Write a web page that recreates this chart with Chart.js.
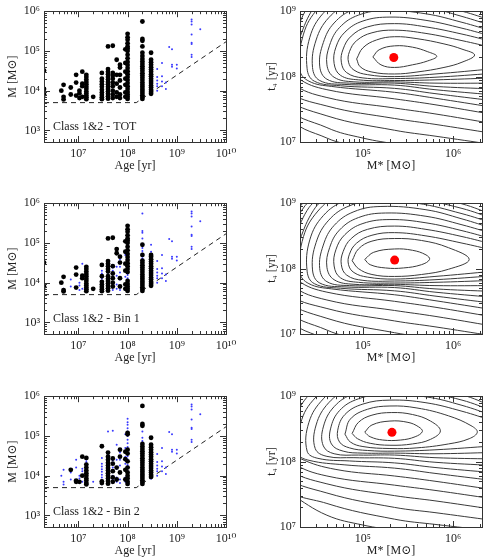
<!DOCTYPE html>
<html>
<head>
<meta charset="utf-8">
<script src="https://cdn.jsdelivr.net/npm/chart.js@4.4.0/dist/chart.umd.min.js"></script>
<style>
  body { margin: 0; background: #fff; width: 490px; height: 560px; position: relative; overflow: hidden; }
  canvas { position: absolute; }
</style>
</head>
<body>
<canvas id="izq1" width="245" height="180" style="left:0;top:0"></canvas>
<canvas id="der1" width="245" height="180" style="left:245px;top:0"></canvas>
<canvas id="izq2" width="245" height="180" style="left:0;top:192px"></canvas>
<canvas id="der2" width="245" height="180" style="left:245px;top:192px"></canvas>
<canvas id="izq3" width="245" height="180" style="left:0;top:385px"></canvas>
<canvas id="der3" width="245" height="180" style="left:245px;top:385px"></canvas>
<script>
// ---- datos: columnas de cúmulos [edad (yr), [masas (Msun)]] ----
const columnasTot = [
  [2e6, [3.2e4, 1.1e4, 8e3]],
  [4.5e6, [1e4]],
  [5e6, [1.4e4, 7e3, 6e3]],
  [7e6, [1.2e4, 8e3]],
  [9e6, [2.5e4, 1.6e4, 7.5e3]],
  [1.05e7, [1e4, 8.5e3, 6.5e3]],
  [1.2e7, [3e4, 1.5e4, 1.3e4, 7e3]],
  [1.45e7, [2.5e4, 2.2e4, 1.9e4, 1.65e4, 1.45e4, 1.25e4, 1.1e4, 9.5e3, 8.5e3, 7.5e3, 6.8e3, 6.1e3]],
  [2e7, [7e3]],
  [3e7, [2.8e4, 2e4, 1.7e4, 1.45e4, 1.25e4, 1.05e4, 9e3, 7.8e3, 6.8e3, 6.1e3]],
  [4e7, [1.3e5, 3.5e4, 3e4, 2.6e4, 2.2e4, 1.9e4, 1.65e4, 1.45e4, 1.25e4, 1.1e4, 9.5e3, 8.3e3, 7.2e3, 6.3e3]],
  [5e7, [1.35e5, 2.8e4, 2.4e4, 2e4, 1.6e4, 1.3e4, 1e4, 8e3, 6.5e3]],
  [6e7, [6e4, 2.5e4, 1.5e4, 9e3, 7e3]],
  [7e7, [4.5e4, 3.8e4, 2.5e4, 1.8e4, 1.2e4, 8e3, 6.5e3]],
  [9e7, [1.1e5, 5e4, 3e4, 2e4, 1.4e4, 9e3, 7e3]],
  [1e8, [2.7e5, 2.2e5, 1.9e5, 1.55e5, 1.3e5, 1.15e5, 1e5, 8e4, 6.5e4, 5.3e4, 4.4e4, 3.7e4, 3.1e4, 2.6e4, 2.2e4, 1.85e4, 1.55e4, 1.3e4, 1.1e4, 9.3e3, 8e3, 7e3, 6.2e3]],
  [2e8, [5.5e5, 2e5, 1.8e5, 1.3e5, 9e4, 7.5e4, 6.3e4, 5.4e4, 4.7e4, 4.1e4, 3.6e4, 3.15e4, 2.75e4, 2.4e4, 2.1e4, 1.85e4, 1.6e4, 1.4e4, 1.25e4, 1.1e4, 9.8e3, 8.7e3, 7.7e3, 6.9e3, 6.2e3]],
  [3e8, [9e4, 6e4, 5.2e4, 4.5e4, 3.9e4, 3.4e4, 3e4, 2.6e4, 2.3e4, 2e4, 1.75e4, 1.55e4, 1.35e4, 1.2e4, 1.05e4, 9.3e3, 8.3e3]]
];
const columnasViejas = [
  [4e8, [3.5e4, 2.2e4, 1.8e4, 1.5e4, 1.3e4, 1e4]],
  [5e8, [5e4, 2.3e4, 1.7e4, 1.3e4]],
  [6e8, [1.6e4, 1.1e4]],
  [7e8, [1.25e5]],
  [8e8, [1.1e5, 4.5e4, 4e4]],
  [1e9, [4.5e4, 3.6e4]],
  [2e9, [6.2e5, 5.5e5, 4.6e5, 2.6e5, 1.6e5, 1.5e5, 8e4, 7e4]],
  [3e9, [3.5e5]]
];
const columnasBin1 = [
  [2e6, [3.2e4, 8e3]],
  [4.5e6, [1e4]],
  [5e6, [1.4e4, 6.5e3, 6e3]],
  [9e6, [2.4e4, 1.6e4, 7.5e3]],
  [1.2e7, [1.5e4, 1.3e4]],
  [1.45e7, [2.5e4, 2.2e4, 1.9e4, 1.65e4, 1.45e4, 1.25e4, 1.1e4, 9.5e3, 8.5e3, 7.5e3, 6.8e3, 6.1e3]],
  [2e7, [7e3]],
  [3e7, [2.8e4, 1.45e4, 1.05e4, 9e3, 7.8e3, 6.8e3, 6.1e3]],
  [4e7, [1.3e5, 3.5e4, 3e4, 2.6e4, 2.2e4, 1.9e4, 1.45e4, 1.25e4, 1.1e4, 9.5e3, 8.3e3, 7.2e3, 6.3e3]],
  [5e7, [1.35e5, 2.6e4, 1.7e4, 1.3e4, 1e4, 8e3]],
  [6e7, [7e4, 5.5e4]],
  [7e7, [4.5e4, 3.2e4, 1.3e4, 8e3]],
  [9e7, [1.1e5, 6e4, 3e4, 2e4, 9e3, 7e3]],
  [1e8, [2.7e5, 2.2e5, 1.9e5, 1.55e5, 1.3e5, 1.15e5, 1e5, 8e4, 6.5e4, 5.3e4, 4.4e4, 3.7e4, 3.1e4, 2.6e4, 2.2e4, 1.85e4, 1.1e4, 9.3e3, 8e3, 7e3, 6.2e3]],
  [2e8, [9e4, 5e4, 3.6e4, 3.15e4, 2.75e4, 2.4e4, 2.1e4, 1.85e4, 1.6e4, 1.4e4, 1.25e4, 1.1e4, 9.8e3, 8.7e3, 7.7e3, 6.9e3, 6.2e3]],
  [3e8, [5e4, 4.5e4, 3.9e4, 3.4e4, 3e4, 2.6e4, 2.3e4, 2e4, 1.75e4, 1.55e4, 1.35e4, 1.2e4, 1.05e4, 9.3e3, 8.3e3]]
];
const columnasBin2 = [
  [7e6, [1.4e4]],
  [9e6, [7.5e3, 7e3]],
  [1.05e7, [7e3]],
  [1.2e7, [3e4, 1e4]],
  [1.45e7, [2.8e4, 1.9e4, 1.6e4, 1.35e4, 1.15e4, 1e4, 8.5e3, 7.5e3, 6.5e3, 6e3]],
  [3e7, [5.5e4, 7.2e3, 6.5e3]],
  [4e7, [3.8e4, 3e4, 2.5e4, 2.1e4, 1.8e4, 1.55e4, 1.35e4, 1.15e4, 1e4, 8.5e3, 7.3e3, 6.3e3]],
  [5e7, [2.7e4, 2e4, 1.3e4, 9e3, 7e3]],
  [6e7, [1.6e4, 8e3]],
  [7e7, [4.5e4, 3e4, 1.2e4]],
  [9e7, [4e4, 2.6e4, 1.4e4, 8e3]],
  [1e8, [1.2e5, 1.1e5, 4.5e4, 3.6e4, 2.3e4, 1.6e4, 1.2e4, 1e4, 8.5e3, 7e3, 6.2e3]],
  [2e8, [5.7e5, 2e5, 1.8e5, 6.3e4, 5.4e4, 4.7e4, 4.1e4, 3.6e4, 3.15e4, 2.75e4, 2.4e4, 2.1e4, 1.85e4, 1.6e4, 1.4e4, 1.25e4, 1.1e4, 9.8e3, 8.7e3, 7.7e3, 6.9e3, 6.2e3]],
  [3e8, [9e4, 6e4, 5.2e4, 4.5e4, 3.9e4, 3.4e4, 3e4, 2.6e4, 2.3e4, 2e4, 1.75e4, 1.55e4, 1.35e4, 1.2e4, 1.05e4, 9.3e3]]
];

// límite de completitud (línea discontinua)
const limiteEdad = [2e6, 1.5e8, 1e10];
const limiteMasa = [5e3, 5e3, 1.7e5];

// mejor ajuste [M*, t4]
const mejorSup = [2.2e5, 1.96e8];
const mejorMed = [2.25e5, 1.35e8];
const mejorInf = [2.1e5, 2.8e8];

// contornos: pares [log10 M*, log10 t4]
const contornosSup = [
  [[5.11,8.30],[5.18,8.41],[5.35,8.47],[5.55,8.45],[5.72,8.38],[5.82,8.31],[5.72,8.24],[5.55,8.18],[5.35,8.14],[5.2,8.18],[5.11,8.30]],
  [[4.93,8.27],[5.0,8.44],[5.15,8.56],[5.35,8.61],[5.6,8.58],[5.9,8.5],[6.1,8.42],[6.24,8.33],[6.1,8.22],[5.9,8.14],[5.6,8.07],[5.35,8.04],[5.1,8.07],[4.97,8.15],[4.93,8.27]],
  [[6.45,8.44],[6.1,8.55],[5.7,8.66],[5.35,8.71],[5.1,8.67],[4.93,8.55],[4.85,8.38],[4.84,8.22],[4.9,8.1],[5.05,8.03],[5.35,8.0],[5.8,8.04],[6.45,8.12]],
  [[6.45,8.53],[6.1,8.65],[5.7,8.76],[5.35,8.81],[5.05,8.76],[4.87,8.62],[4.78,8.42],[4.76,8.22],[4.82,8.06],[5.0,7.98],[5.35,7.97],[5.8,7.99],[6.45,8.05]],
  [[6.45,8.61],[6.1,8.74],[5.7,8.86],[5.3,8.91],[5.0,8.85],[4.8,8.68],[4.7,8.45],[4.68,8.2],[4.75,8.02],[4.95,7.95],[5.35,7.94],[5.8,7.95],[6.45,7.98]],
  [[6.45,8.69],[6.1,8.83],[5.7,8.96],[5.25,9.01],[4.95,8.94],[4.74,8.75],[4.63,8.48],[4.6,8.18],[4.68,7.99],[4.9,7.92],[5.35,7.92],[5.8,7.9],[6.45,7.9]],
  [[6.45,8.77],[6.1,8.92],[5.7,9.06],[5.2,9.11],[4.9,9.03],[4.68,8.82],[4.56,8.52],[4.52,8.16],[4.6,7.96],[4.85,7.9],[5.35,7.9],[5.8,7.85],[6.45,7.81]],
  [[6.45,8.85],[6.1,9.0],[5.6,9.16],[5.15,9.2],[4.85,9.12],[4.62,8.9],[4.48,8.56],[4.44,8.14],[4.52,7.94],[4.8,7.88],[5.35,7.87],[5.8,7.8],[6.45,7.72]],
  [[6.45,8.92],[6.1,9.08],[5.5,9.26],[5.1,9.3],[4.8,9.2],[4.56,8.97],[4.41,8.6],[4.38,8.12],[4.46,7.93],[4.75,7.86],[5.35,7.82],[5.8,7.74],[6.45,7.63]],
  [[6.45,8.98],[6.1,9.15],[5.5,9.34],[5.0,9.38],[4.72,9.27],[4.5,9.04],[4.34,8.65],[4.3,8.1],[4.4,7.93],[4.65,7.85],[5.35,7.76],[5.8,7.67],[6.45,7.53]],
  [[4.62,9.3],[4.45,9.05],[4.3,8.6],[4.22,8.2],[4.28,7.98],[4.6,7.8],[5.35,7.66],[5.8,7.57],[6.45,7.42]],
  [[4.55,9.3],[4.38,9.05],[4.24,8.6],[4.15,8.2],[4.22,7.9],[4.6,7.68],[5.35,7.52],[5.8,7.43],[6.45,7.28]],
  [[4.48,9.3],[4.32,9.05],[4.18,8.65],[4.08,8.2],[4.15,7.8],[4.6,7.55],[5.35,7.36],[5.8,7.27],[6.45,7.13]],
  [[4.42,9.3],[4.27,9.05],[4.12,8.7],[4.0,8.2],[4.1,7.72],[4.6,7.4],[5.35,7.18],[5.8,7.09],[6.45,6.96]],
  [[4.37,9.3],[4.22,9.05],[4.06,8.75],[4.15,7.58],[4.6,7.22],[5.0,7.06],[5.4,6.96]],
  [[4.33,9.3],[4.18,9.05],[4.2,7.42],[4.6,7.06],[5.0,6.92]]
];
const contornosMed = [
  [[5.02,8.14],[5.12,8.25],[5.35,8.30],[5.55,8.28],[5.7,8.21],[5.74,8.14],[5.65,8.06],[5.45,8.01],[5.25,8.01],[5.08,8.06],[5.02,8.14]],
  [[4.88,8.12],[4.95,8.3],[5.1,8.42],[5.35,8.46],[5.65,8.43],[5.95,8.32],[6.18,8.14],[5.95,7.99],[5.65,7.91],[5.35,7.88],[5.1,7.91],[4.95,8.0],[4.88,8.12]],
  [[6.45,8.28],[6.1,8.39],[5.7,8.5],[5.35,8.55],[5.1,8.51],[4.93,8.39],[4.85,8.22],[4.84,8.06],[4.9,7.94],[5.05,7.87],[5.35,7.84],[5.8,7.88],[6.45,7.96]],
  [[6.45,8.37],[6.1,8.49],[5.7,8.6],[5.35,8.65],[5.05,8.6],[4.87,8.46],[4.78,8.26],[4.76,8.06],[4.82,7.9],[5.0,7.82],[5.35,7.81],[5.8,7.83],[6.45,7.89]],
  [[6.45,8.45],[6.1,8.58],[5.7,8.7],[5.3,8.75],[5.0,8.69],[4.8,8.52],[4.7,8.29],[4.68,8.04],[4.75,7.86],[4.95,7.79],[5.35,7.78],[5.8,7.79],[6.45,7.82]],
  [[6.45,8.53],[6.1,8.67],[5.7,8.8],[5.25,8.85],[4.95,8.78],[4.74,8.59],[4.63,8.32],[4.6,8.02],[4.68,7.83],[4.9,7.76],[5.35,7.76],[5.8,7.74],[6.45,7.74]],
  [[6.45,8.61],[6.1,8.76],[5.7,8.9],[5.2,8.95],[4.9,8.87],[4.68,8.66],[4.56,8.36],[4.52,8.0],[4.6,7.8],[4.85,7.74],[5.35,7.74],[5.8,7.69],[6.45,7.65]],
  [[6.45,8.69],[6.1,8.84],[5.6,9.0],[5.15,9.04],[4.85,8.96],[4.62,8.74],[4.48,8.4],[4.44,7.98],[4.52,7.78],[4.8,7.72],[5.35,7.71],[5.8,7.64],[6.45,7.56]],
  [[6.45,8.76],[6.1,8.92],[5.5,9.1],[5.1,9.14],[4.8,9.04],[4.56,8.81],[4.41,8.44],[4.38,7.96],[4.46,7.77],[4.75,7.7],[5.35,7.66],[5.8,7.58],[6.45,7.47]],
  [[6.45,8.82],[6.1,8.99],[5.5,9.18],[5.0,9.22],[4.72,9.11],[4.5,8.88],[4.34,8.49],[4.3,7.94],[4.4,7.77],[4.65,7.69],[5.35,7.6],[5.8,7.51],[6.45,7.37]],
  [[4.62,9.14],[4.45,8.89],[4.3,8.44],[4.22,8.04],[4.28,7.82],[4.6,7.64],[5.35,7.5],[5.8,7.41],[6.45,7.26]],
  [[4.55,9.14],[4.38,8.89],[4.24,8.44],[4.15,8.04],[4.22,7.74],[4.6,7.52],[5.35,7.36],[5.8,7.27],[6.45,7.12]],
  [[4.48,9.14],[4.32,8.89],[4.18,8.49],[4.08,8.04],[4.15,7.64],[4.6,7.39],[5.35,7.2],[5.8,7.11],[6.45,6.97]],
  [[4.42,9.14],[4.27,8.89],[4.12,8.54],[4.0,8.04],[4.1,7.56],[4.6,7.24],[5.35,7.02],[5.8,6.93]],
  [[4.37,9.14],[4.22,8.89],[4.06,8.59],[4.15,7.42],[4.6,7.06],[5.0,6.9]],
  [[4.33,9.14],[4.18,8.89],[4.2,7.26],[4.6,6.9]]
];
const contornosInf = [
  [[5.02,8.45],[5.1,8.56],[5.3,8.62],[5.5,8.6],[5.62,8.53],[5.66,8.46],[5.58,8.38],[5.42,8.33],[5.22,8.33],[5.08,8.38],[5.02,8.45]],
  [[4.88,8.43],[4.95,8.6],[5.1,8.71],[5.32,8.75],[5.55,8.72],[5.75,8.62],[5.86,8.47],[5.75,8.34],[5.55,8.27],[5.3,8.25],[5.08,8.28],[4.94,8.35],[4.88,8.43]],
  [[4.8,8.42],[4.86,8.65],[5.05,8.8],[5.3,8.85],[5.6,8.82],[5.95,8.7],[6.2,8.55],[6.27,8.45],[6.18,8.35],[5.95,8.27],[5.6,8.21],[5.3,8.2],[5.0,8.23],[4.86,8.3],[4.8,8.42]],
  [[6.45,8.62],[6.1,8.77],[5.7,8.9],[5.3,8.94],[5.0,8.88],[4.8,8.72],[4.72,8.48],[4.74,8.3],[4.85,8.21],[5.05,8.17],[5.35,8.16],[5.8,8.18],[6.45,8.24]],
  [[6.45,8.7],[6.1,8.86],[5.7,8.99],[5.25,9.03],[4.95,8.96],[4.74,8.78],[4.64,8.5],[4.65,8.27],[4.78,8.16],[5.0,8.13],[5.35,8.13],[5.8,8.12],[6.45,8.14]],
  [[6.45,8.77],[6.1,8.94],[5.6,9.08],[5.2,9.12],[4.9,9.04],[4.68,8.84],[4.56,8.53],[4.56,8.24],[4.68,8.12],[4.95,8.1],[5.35,8.1],[5.8,8.06],[6.45,8.04]],
  [[6.45,8.84],[6.1,9.02],[5.5,9.18],[5.1,9.2],[4.85,9.12],[4.62,8.9],[4.48,8.56],[4.47,8.2],[4.6,8.08],[4.9,8.06],[5.35,8.05],[5.8,7.99],[6.45,7.94]],
  [[6.45,8.91],[6.1,9.1],[5.4,9.28],[4.8,9.2],[4.56,8.96],[4.4,8.6],[4.38,8.16],[4.5,8.05],[4.85,8.01],[5.35,7.98],[5.8,7.91],[6.45,7.83]],
  [[6.45,8.97],[6.1,9.17],[4.75,9.28],[4.5,9.02],[4.32,8.64],[4.29,8.12],[4.4,8.02],[4.8,7.95],[5.35,7.9],[5.8,7.82],[6.45,7.71]],
  [[4.7,9.35],[4.44,9.08],[4.25,8.68],[4.2,8.2],[4.3,8.05],[4.7,7.88],[5.35,7.78],[5.8,7.7],[6.45,7.57]],
  [[4.62,9.4],[4.38,9.12],[4.18,8.72],[4.12,8.2],[4.22,7.98],[4.6,7.78],[5.35,7.64],[5.8,7.56],[6.45,7.43]],
  [[4.55,9.45],[4.32,9.18],[4.1,8.76],[4.05,8.2],[4.15,7.9],[4.6,7.66],[5.35,7.48],[5.8,7.4],[6.45,7.27]],
  [[4.48,9.5],[4.26,9.24],[4.03,8.8],[4.0,8.2],[4.1,7.8],[4.6,7.52],[5.35,7.3],[5.8,7.22],[6.45,7.1]],
  [[4.42,9.55],[4.2,9.3],[4.0,8.7],[4.1,7.66],[4.6,7.36],[5.35,7.12],[5.8,7.04],[6.45,6.94]],
  [[4.2,7.5],[4.6,7.18],[5.0,7.03],[5.4,6.94]]
];

// ---- estilo ----
const fuente = "'Liberation Serif', 'DejaVu Serif', serif";
const etiquetas = {3: '10³', 4: '10⁴', 5: '10⁵', 6: '10⁶', 7: '10⁷', 8: '10⁸', 9: '10⁹', 10: '10¹⁰'};

// marco con marcas hacia dentro en los cuatro lados (estilo IDL)
const marcoIDL = {
  id: 'marcoIDL',
  afterDatasetsDraw(chart, args, opts) {
    const {ctx, chartArea: a, scales} = chart;
    ctx.save();
    ctx.strokeStyle = '#333';
    ctx.lineWidth = 1;
    ctx.strokeRect(Math.round(a.left) + 0.5, Math.round(a.top) + 0.5, Math.round(a.right - a.left), Math.round(a.bottom - a.top));
    ctx.beginPath();
    ['x', 'y'].forEach(id => {
      const s = scales[id];
      const e0 = Math.floor(Math.log10(s.min)), e1 = Math.ceil(Math.log10(s.max));
      for (let e = e0; e <= e1; e++) {
        for (let k = 1; k < 10; k++) {
          const v = k * Math.pow(10, e);
          if (v < s.min * 1.001 || v > s.max * 0.999) continue;
          const p = Math.round(s.getPixelForValue(v)) + 0.5;
          const l = k === 1 ? 6 : 3;
          if (id === 'x') {
            ctx.moveTo(p, a.bottom); ctx.lineTo(p, a.bottom - l);
            ctx.moveTo(p, a.top); ctx.lineTo(p, a.top + l);
          } else {
            ctx.moveTo(a.left, p); ctx.lineTo(a.left + l, p);
            ctx.moveTo(a.right, p); ctx.lineTo(a.right - l, p);
          }
        }
      }
    });
    ctx.stroke();
    if (opts && opts.texto) {
      ctx.fillStyle = '#222';
      ctx.font = '12px ' + fuente;
      ctx.textBaseline = 'middle';
      ctx.fillText(opts.texto, a.left + 9, a.bottom - 15);
    }
    ctx.restore();
  }
};

function ejeLog(pos, min, max, decadas, titulo, tam, padTitulo) {
  return {
    type: 'logarithmic', position: pos, min: min, max: max,
    grid: {display: false, drawTicks: false},
    border: {display: false},
    afterBuildTicks: s => { s.ticks = decadas.map(e => ({value: Math.pow(10, e)})); },
    afterFit: s => { if (pos === 'left') s.width = tam; else s.height = tam; },
    ticks: {
      autoSkip: false, maxRotation: 0, padding: pos === 'left' ? 4 : 5, color: '#222',
      font: {family: fuente, size: 12},
      callback: v => etiquetas[Math.round(Math.log10(v))]
    },
    title: {
      display: true, text: titulo, color: '#222',
      font: {family: fuente, size: 12},
      padding: pos === 'left' ? {top: padTitulo, bottom: 0} : {top: 0, bottom: padTitulo}
    }
  };
}

function puntos(columnas) {
  const out = [];
  columnas.forEach(([edad, masas]) => masas.forEach(m => out.push({x: edad, y: m})));
  return out;
}

function curva(pares) {
  return pares.map(([lm, lt]) => ({x: Math.pow(10, lm), y: Math.pow(10, lt)}));
}

function panelCumulos(id, negras, texto) {
  new Chart(document.getElementById(id), {
    type: 'scatter',
    data: {
      datasets: [
        {data: puntos(negras), backgroundColor: '#000', borderWidth: 0, pointRadius: 2.4, order: 0},
        {data: puntos(columnasTot.concat(columnasViejas)), backgroundColor: '#3a3aff', borderWidth: 0, pointRadius: 1, order: 1},
        {data: limiteEdad.map((e, i) => ({x: e, y: limiteMasa[i]})), showLine: true, borderColor: '#222',
         borderWidth: 1, borderDash: [5, 4], pointRadius: 0, order: 2}
      ]
    },
    options: {
      responsive: false, animation: false,
      layout: {padding: {left: 0, top: 5, right: 19, bottom: 0}},
      plugins: {legend: {display: false}, tooltip: {enabled: false}, marcoIDL: {texto: texto}},
      scales: {
        x: ejeLog('bottom', 2e6, 1e10, [7, 8, 9, 10], 'Age [yr]', 38, 7),
        y: ejeLog('left', 5.1e2, 1e6, [3, 4, 5, 6], 'M [M⊙]', 44, 6)
      }
    },
    plugins: [marcoIDL]
  });
}

function panelContornos(id, contornos, mejor) {
  const ds = contornos.map(c => ({
    data: curva(c), showLine: true, borderColor: '#3a3a3a', borderWidth: 1,
    pointRadius: 0, tension: 0.4, order: 1
  }));
  ds.unshift({data: [{x: mejor[0], y: mejor[1]}], backgroundColor: '#ff0000', borderWidth: 0, pointRadius: 4.5, order: 0});
  new Chart(document.getElementById(id), {
    type: 'scatter',
    data: {datasets: ds},
    options: {
      responsive: false, animation: false,
      elements: {line: {capBezierPoints: false}},
      layout: {padding: {left: 0, top: 5, right: 8, bottom: 0}},
      plugins: {legend: {display: false}, tooltip: {enabled: false}},
      scales: {
        x: ejeLog('bottom', 2e4, 2.1e6, [5, 6], 'M* [M⊙]', 38, 7),
        y: ejeLog('left', 1e7, 1e9, [7, 8, 9], 't₄ [yr]', 55, 20)
      }
    },
    plugins: [marcoIDL]
  });
}

panelCumulos('izq1', columnasTot, 'Class 1&2 - TOT');
panelCumulos('izq2', columnasBin1, 'Class 1&2 - Bin 1');
panelCumulos('izq3', columnasBin2, 'Class 1&2 - Bin 2');
panelContornos('der1', contornosSup, mejorSup);
panelContornos('der2', contornosMed, mejorMed);
panelContornos('der3', contornosInf, mejorInf);
</script>
</body>
</html>
